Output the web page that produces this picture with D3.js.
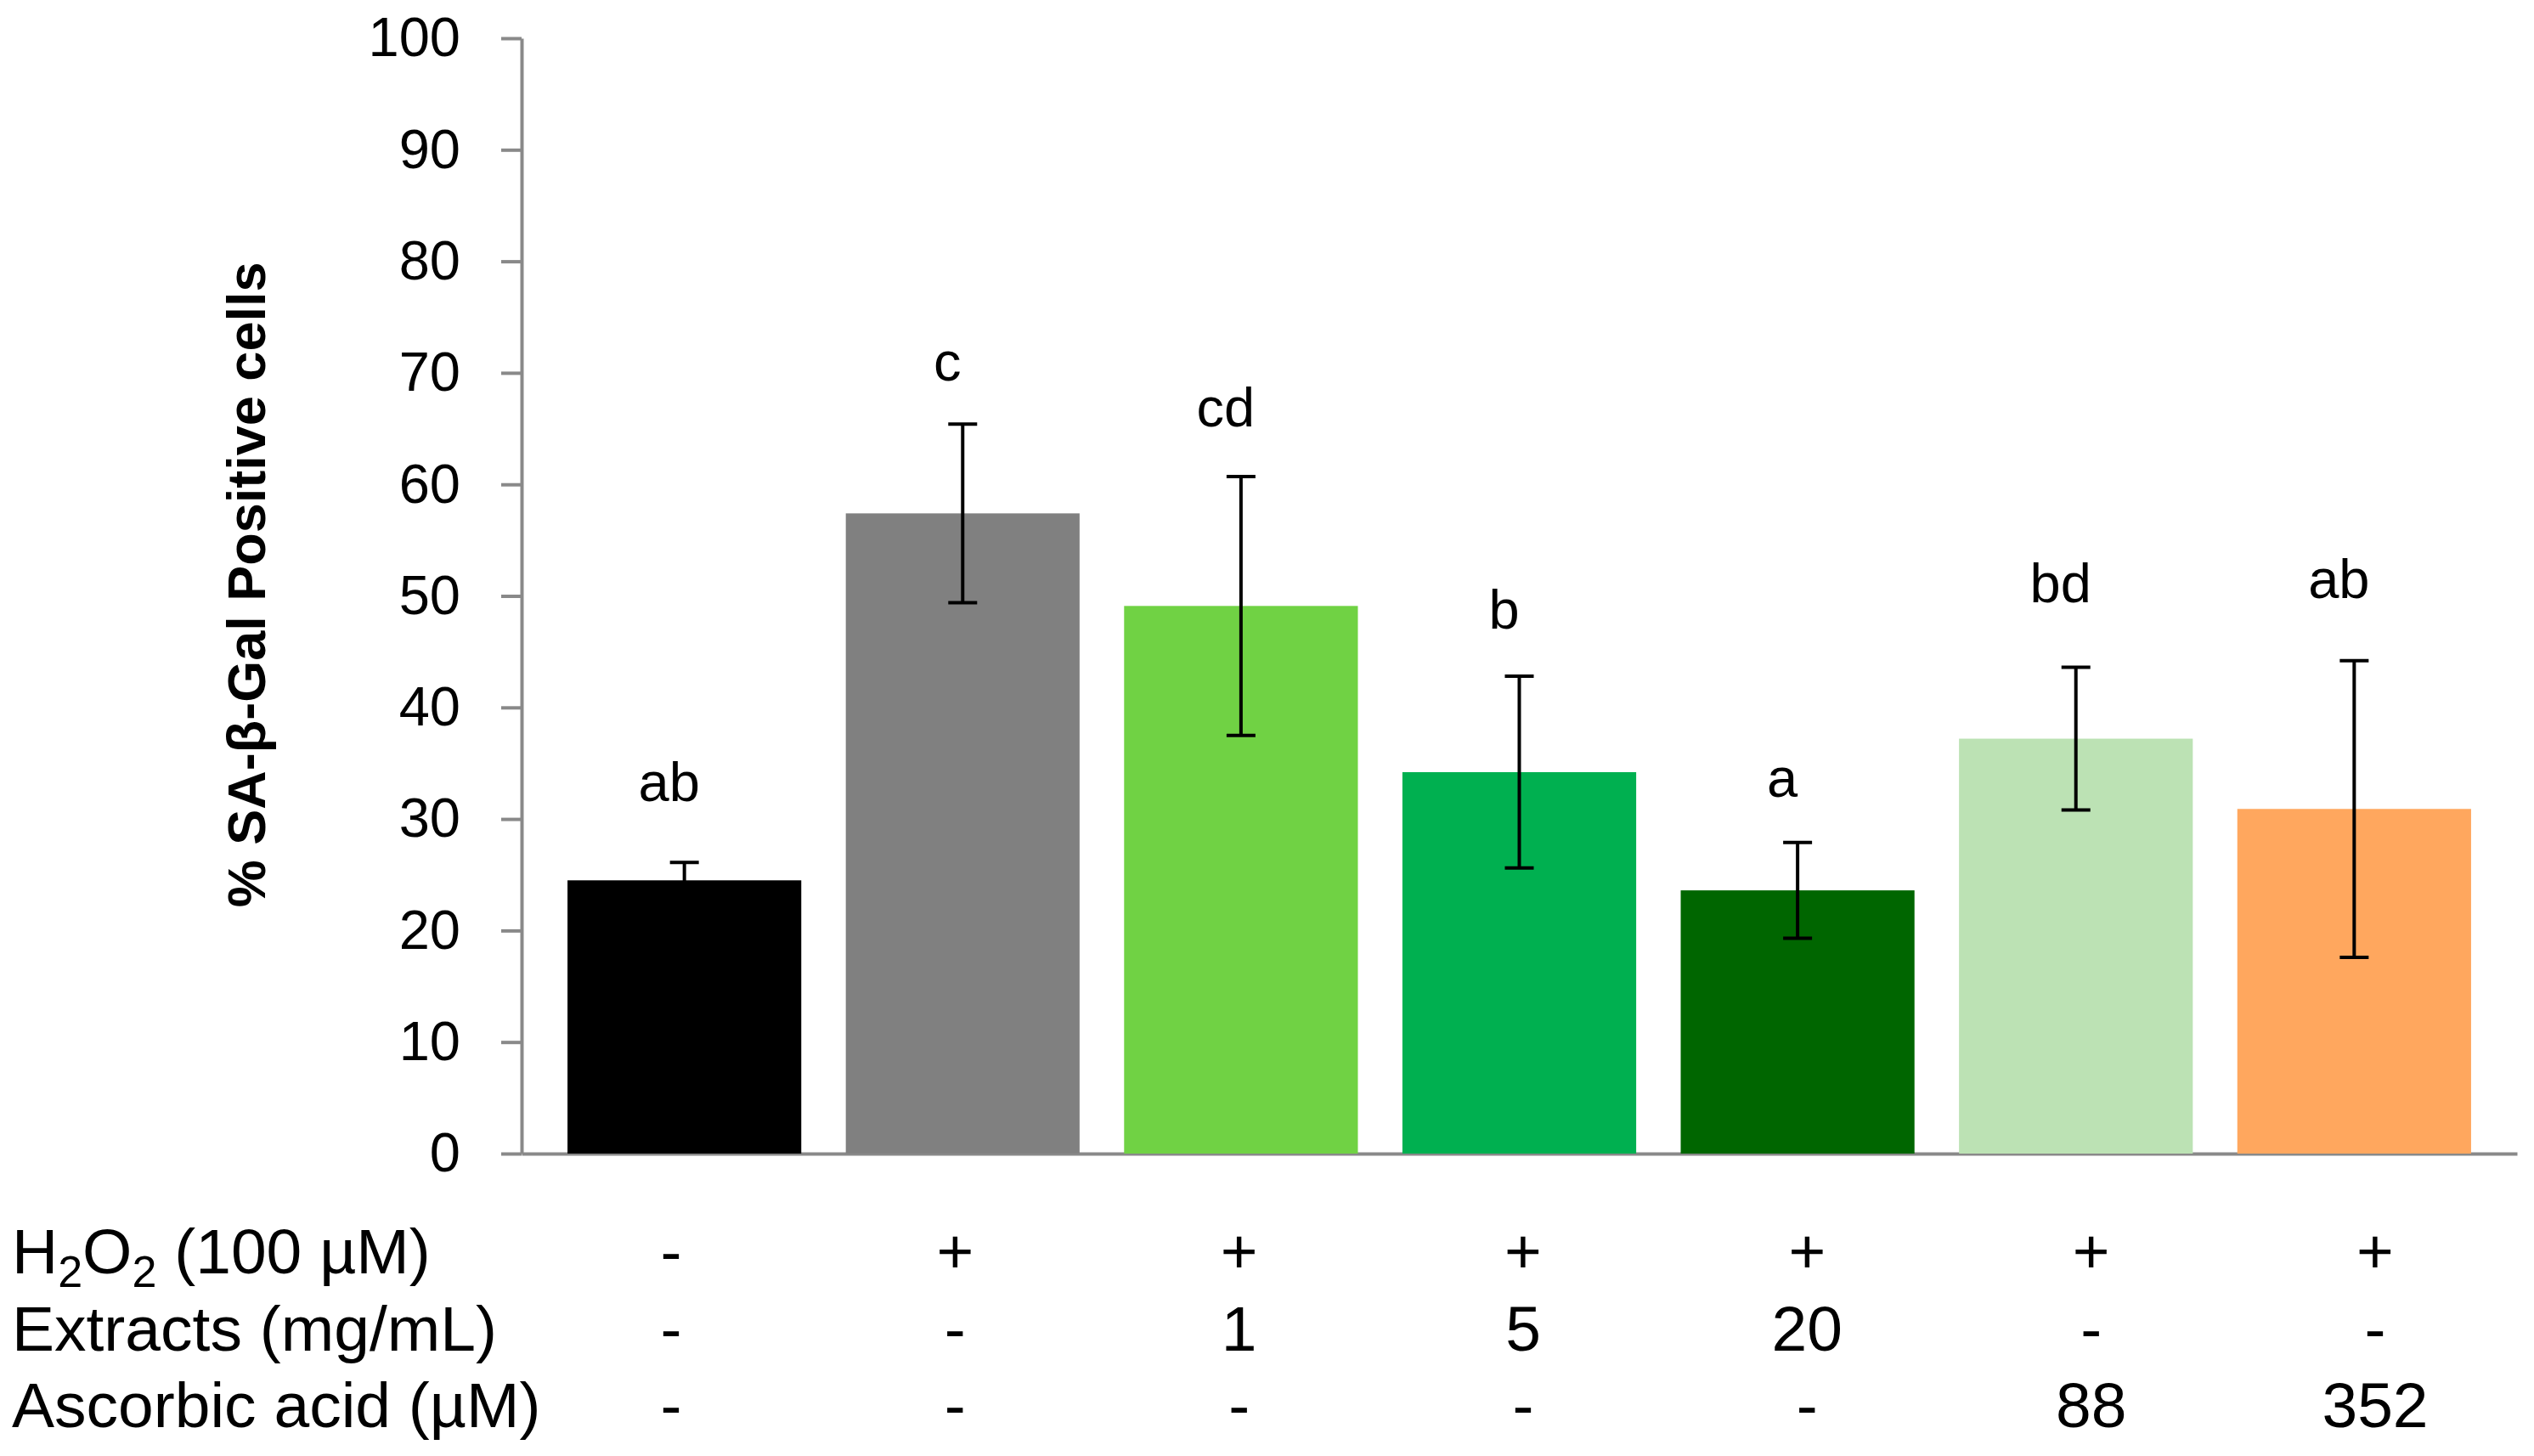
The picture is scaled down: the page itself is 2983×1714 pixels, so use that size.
<!DOCTYPE html>
<html>
<head>
<meta charset="utf-8">
<script src="https://cdn.jsdelivr.net/npm/d3@7"></script>
<style>
body {
	margin: 0;
	background: #fff;
}

text {
	font-family: "Liberation Sans", Arial, sans-serif;
}
</style>
</head>
<body>
<svg id="chart" width="2983" height="1714"></svg>
<script>
var groups = [ "ctrl", "h2o2", "ext1", "ext5", "ext20", "aa88", "aa352" ];
var values = [ 24.5, 57.4, 49.1, 34.2, 23.6, 37.2, 30.9 ];
var errors = [ 1.6, 8.0, 11.6, 8.6, 4.3, 6.4, 13.3 ];
var letters = [ "ab", "c", "cd", "b", "a", "bd", "ab" ];
var letterAt = [ 31.6, 69.3, 65.2, 47.1, 32.0, 49.4, 49.8 ];
var colors = [ "#000000", "#808080", "#70D244", "#00B050", "#006600",
		"#BCE2B4", "#FFA75E" ];
var yTicks = [ 0, 10, 20, 30, 40, 50, 60, 70, 80, 90, 100 ];

var rowLabels = [ "H2O2", "Extracts (mg/mL)", "Ascorbic acid (µM)" ];
var rowH2O2 = [ "-", "+", "+", "+", "+", "+", "+" ];
var rowExtracts = [ "-", "-", "1", "5", "20", "-", "-" ];
var rowAscorbic = [ "-", "-", "-", "-", "-", "88", "352" ];

var AXIS_COLOR = "#898989";
var AXIS_WIDTH = 4;

var svg = d3.select("#chart");

var x = d3.scaleBand().domain(groups).range([ 614, 2963 ]) //
.paddingInner(0.16) //
.paddingOuter(0.165);

var y = d3.scaleLinear().domain([ 0, 100 ]).range([ 1358, 45 ]);

// table columns are not quite on the bars
var col = d3.scalePoint().domain(groups).range([ 790, 2796 ]);

function drawAxes() {

	var yAxis = svg.append("g") //
	.attr("transform", "translate(614,0)") //
	.call(d3.axisLeft(y).tickValues(yTicks).tickSize(24).tickSizeOuter(0)
			.tickPadding(48));

	yAxis.selectAll("path, line") //
	.attr("stroke", AXIS_COLOR) //
	.attr("stroke-width", AXIS_WIDTH);

	yAxis.selectAll("text") //
	.attr("fill", "#000") //
	.style("font-size", "65px");

	var xAxis = svg.append("g") //
	.attr("transform", "translate(0," + y(0) + ")") //
	.call(d3.axisBottom(x).tickValues([]).tickSizeOuter(0));

	xAxis.select("path") //
	.attr("stroke", AXIS_COLOR) //
	.attr("stroke-width", AXIS_WIDTH);

	svg.append("text") //
	.attr("transform", "translate(312," + y(51) + ") rotate(-90)") //
	.attr("text-anchor", "middle") //
	.style("font-size", "63px") //
	.style("font-weight", "bold") //
	.text("% SA-β-Gal Positive cells");

}// END: drawAxes

function drawBars() {

	svg.append("g").selectAll("rect").data(values).enter().append("rect") //
	.attr("x", function(d, i) {
		return (x(groups[i]));
	}) //
	.attr("y", function(d) {
		return (y(d));
	}) //
	.attr("width", x.bandwidth()) //
	.attr("height", function(d) {
		return (y(0) - y(d));
	}) //
	.attr("fill", function(d, i) {
		return (colors[i]);
	});

	var cx = function(i) {
		return (x(groups[i]) + x.bandwidth() / 2);
	};

	var err = svg.append("g") //
	.attr("stroke", "#000") //
	.attr("stroke-width", 4);

	values.forEach(function(v, i) {

		var top = y(v + errors[i]);
		var bottom = y(v - errors[i]);

		err.append("line") //
		.attr("x1", cx(i)).attr("x2", cx(i)) //
		.attr("y1", top).attr("y2", bottom);

		[ top, bottom ].forEach(function(yy) {
			err.append("line") //
			.attr("x1", cx(i) - 17).attr("x2", cx(i) + 17) //
			.attr("y1", yy).attr("y2", yy);
		});

	});

	svg.append("g").selectAll("text").data(letters).enter().append("text") //
	.attr("x", function(d, i) {
		return (cx(i) - 18);
	}) //
	.attr("y", function(d, i) {
		return (y(letterAt[i]));
	}) //
	.attr("text-anchor", "middle") //
	.style("font-size", "65px") //
	.text(function(d) {
		return (d);
	});

}// END: drawBars

function drawTable() {

	var rows = [ rowH2O2, rowExtracts, rowAscorbic ];
	var baselines = [ 1499, 1590, 1680 ];

	var table = svg.append("g").style("font-size", "75px");

	// H2O2 label needs subscripts
	var h = table.append("text") //
	.attr("x", 14) //
	.attr("y", baselines[0]);
	h.append("tspan").text("H");
	h.append("tspan").attr("dy", 16).style("font-size", "52px").text("2");
	h.append("tspan").attr("dy", -16).text("O");
	h.append("tspan").attr("dy", 16).style("font-size", "52px").text("2");
	h.append("tspan").attr("dy", -16).text(" (100 µM)");

	rowLabels.slice(1).forEach(function(label, k) {
		table.append("text") //
		.attr("x", 14) //
		.attr("y", baselines[k + 1]) //
		.text(label);
	});

	rows.forEach(function(row, r) {
		table.append("g").selectAll("text").data(row).enter().append("text") //
		.attr("x", function(d, i) {
			return (col(groups[i]));
		}) //
		.attr("y", baselines[r]) //
		.attr("text-anchor", "middle") //
		.text(function(d) {
			return (d);
		});
	});

}// END: drawTable

drawAxes();
drawBars();
drawTable();
</script>
</body>
</html>
